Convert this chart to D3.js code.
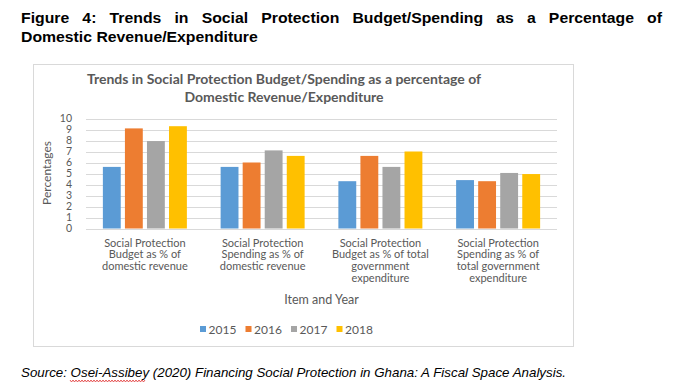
<!DOCTYPE html>
<html><head><meta charset="utf-8">
<script src="https://cdn.jsdelivr.net/npm/d3@7"></script>
<style>body{margin:0;background:#fff}svg{display:block}</style>
</head><body>
<svg id="c" width="680" height="390"></svg>
<script>
const categories = [
  ["Social Protection","Budget as % of","domestic revenue"],
  ["Social Protection","Spending as % of","domestic revenue"],
  ["Social Protection","Budget as % of total","government","expenditure"],
  ["Social Protection","Spending as % of","total government","expenditure"]
];
const years = ["2015","2016","2017","2018"];
const v2015 = [5.6, 5.6, 4.3, 4.4];
const v2016 = [9.1, 6.0, 6.6, 4.3];
const v2017 = [7.95, 7.1, 5.6, 5.05];
const v2018 = [9.3, 6.6, 7.0, 4.95];
const yTicks = [0,1,2,3,4,5,6,7,8,9,10];
const colors = ["#5B9BD5","#ED7D31","#A5A5A5","#FFC000"];
const series = [v2015, v2016, v2017, v2018];

const svg = d3.select("#c");
const grey = "#595959";
const capFont = "Liberation Sans, Arial, sans-serif";

// Figure caption: second line sets horizontal scale, first line justified
const line2 = "Domestic Revenue/Expenditure";
const tmp = svg.append("text").attr("font-family",capFont).attr("font-weight","bold").attr("font-size",14.3).text(line2);
const SX = 237 / tmp.node().getComputedTextLength();
tmp.remove();
const cap1 = svg.append("g").attr("transform",`translate(21,22.7) scale(${SX},1)`);
const words = "Figure 4: Trends in Social Protection Budget/Spending as a Percentage of".split(" ");
const wEls = words.map(w => cap1.append("text").attr("font-family",capFont).attr("font-weight","bold")
  .attr("font-size",14.3).text(w));
const lens = wEls.map(e => e.node().getComputedTextLength());
const target = (662-21)/SX;
const gap = (target - d3.sum(lens)) / (words.length-1);
let cx = 0;
wEls.forEach((e,i)=>{ e.attr("x",cx); cx += lens[i] + gap; });
svg.append("g").attr("transform",`translate(21,42.3) scale(${SX},1)`)
  .append("text").attr("font-family",capFont).attr("font-weight","bold").attr("font-size",14.3)
  .text(line2);

// chart box
svg.append("rect").attr("x",33.5).attr("y",64.5).attr("width",540).attr("height",282)
  .attr("fill","#fff").attr("stroke","#d9d9d9");

// chart title
const tt = svg.append("text").attr("text-anchor","middle").attr("font-family","Lato, sans-serif")
  .attr("font-weight","bold").attr("font-size",14).attr("fill",grey);
tt.append("tspan").attr("x",284).attr("y",84).text("Trends in Social Protection Budget/Spending as a percentage of");
tt.append("tspan").attr("x",284).attr("y",101.5).text("Domestic Revenue/Expenditure");

const x0 = d3.scaleBand().domain(d3.range(categories.length)).range([86,557]);
const x1 = d3.scaleBand().domain(d3.range(years.length)).range([0,84]).paddingInner(0.19);
const y = d3.scaleLinear().domain([0,10]).range([228.5,118.5]);

// grid
svg.append("g").selectAll("line").data(yTicks).join("line")
  .attr("x1",86).attr("x2",557).attr("y1",d=>Math.round(y(d))+0.5).attr("y2",d=>Math.round(y(d))+0.5)
  .attr("stroke","#d9d9d9").attr("stroke-width",1);

// y axis labels
const yAxis = svg.append("g").attr("transform","translate(74,0)")
  .call(d3.axisLeft(y).tickValues(yTicks).tickSize(0).tickPadding(2));
yAxis.select(".domain").remove();
yAxis.selectAll("text").attr("font-family","Lato, sans-serif").attr("font-size",10.5).attr("fill",grey);

svg.append("text").attr("transform","translate(51,173) rotate(-90)").attr("text-anchor","middle")
  .attr("font-family","Lato, sans-serif").attr("font-size",12).attr("fill",grey).text("Percentages");

// bars
const groupW = x0.bandwidth();
series.forEach((s,si)=>{
  svg.append("g").selectAll("rect").data(s).join("rect")
    .attr("x",(d,i)=>x0(i)+(groupW-84)/2+x1(si))
    .attr("width",x1.bandwidth())
    .attr("y",d=>y(d)).attr("height",d=>y(0)-y(d))
    .attr("fill",colors[si]);
});

// category labels
categories.forEach((lines,i)=>{
  const t = svg.append("text").attr("text-anchor","middle").attr("font-family","Lato, sans-serif")
    .attr("font-size",11).attr("fill",grey);
  lines.forEach((l,j)=>t.append("tspan").attr("x",x0(i)+groupW/2).attr("y",246.5+j*11.7).text(l));
});

svg.append("text").attr("x",(86+557)/2).attr("y",304).attr("text-anchor","middle")
  .attr("font-family","Lato, sans-serif").attr("font-size",12.5).attr("fill",grey).text("Item and Year");

// legend
const leg = svg.append("g").selectAll("g").data(years).join("g")
  .attr("transform",(d,i)=>`translate(${200+i*45.5},329)`);
leg.append("rect").attr("x",0).attr("y",-3).attr("width",6).attr("height",6).attr("fill",(d,i)=>colors[i]);
leg.append("text").attr("x",8.5).attr("y",4.5).attr("font-family","Lato, sans-serif").attr("font-size",12)
  .attr("fill",grey).text(d=>d);

// source
svg.append("text").attr("x",21).attr("y",376.7).attr("font-family",capFont).attr("font-style","italic")
  .attr("font-size",13).attr("fill","#000").attr("textLength",545).attr("lengthAdjust","spacingAndGlyphs")
  .text("Source: Osei-Assibey (2020) Financing Social Protection in Ghana: A Fiscal Space Analysis.");
// red wavy underline under "Osei-Assibey"
let p = "M70,380";
for (let xx=70; xx<145; xx+=3){ p += ` L${xx+1.5},382 L${xx+3},380`; }
svg.append("path").attr("d",p).attr("fill","none").attr("stroke","#e03030").attr("stroke-width",0.8);
</script>
</body></html>
